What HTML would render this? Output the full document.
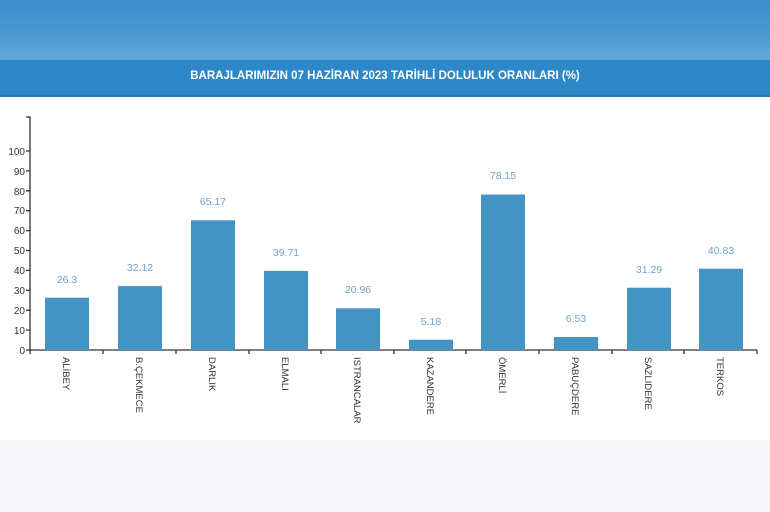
<!DOCTYPE html>
<html><head><meta charset="utf-8"><style>
body{margin:0;width:770px;height:512px;overflow:hidden;background:#f6f6f8;font-family:"Liberation Sans","DejaVu Sans",sans-serif}
#top{position:absolute;left:0;top:0;width:770px;height:60px;background:linear-gradient(180deg,#3b8fcc 0%,#4a9ad3 60%,#62a9da 100%)}
#title{position:absolute;left:0;top:60px;width:770px;height:35px;background:#2e87c6;border-bottom:2px solid #2a79b3;color:#fff;font-size:11.5px;font-weight:bold;text-align:center;line-height:33px}
#main{position:absolute;left:0;top:97px;width:770px;height:343px;background:#fff}
svg{position:absolute;left:0;top:0}
</style></head><body>
<div id="top"></div>
<div id="title">BARAJLARIMIZIN 07 HAZİRAN 2023 TARİHLİ DOLULUK ORANLARI (%)</div>
<div id="main"></div>
<svg width="770" height="512" font-family="Liberation Sans, DejaVu Sans, sans-serif">
<g stroke="#333" stroke-width="1.3" fill="none">
<path d="M26 117H30V350H757"/>
<path d="M26 350H30M26 330.1H30M26 310.2H30M26 290.3H30M26 270.4H30M26 250.5H30M26 230.6H30M26 210.7H30M26 190.8H30M26 170.9H30M26 151H30"/>
<path d="M30 350V354M103 350V354M176 350V354M249 350V354M321 350V354M394 350V354M466 350V354M539 350V354M612 350V354M684 350V354M757 350V354"/>
</g>
<g font-size="10" fill="#333" text-anchor="end">
<text x="25" y="354">0</text><text x="25" y="334">10</text><text x="25" y="314">20</text><text x="25" y="294">30</text><text x="25" y="274">40</text><text x="25" y="254">50</text><text x="25" y="234">60</text><text x="25" y="214">70</text><text x="25" y="195">80</text><text x="25" y="175">90</text><text x="25" y="155">100</text>
</g>
<g fill="#4393c3">
<rect x="45" y="297.7" width="44" height="52.3"/>
<rect x="118" y="286.1" width="44" height="63.9"/>
<rect x="191" y="220.3" width="44" height="129.7"/>
<rect x="264" y="271" width="44" height="79"/>
<rect x="336" y="308.3" width="44" height="41.7"/>
<rect x="409" y="339.7" width="44" height="10.3"/>
<rect x="481" y="194.5" width="44" height="155.5"/>
<rect x="554" y="337" width="44" height="13"/>
<rect x="627" y="287.7" width="44" height="62.3"/>
<rect x="699" y="268.7" width="44" height="81.3"/>
</g>
<g font-size="10.5" fill="#6fa3cc" text-anchor="middle">
<text x="67" y="283">26.3</text><text x="140" y="271">32.12</text><text x="213" y="205">65.17</text><text x="286" y="256">39.71</text><text x="358" y="293">20.96</text><text x="431" y="325">5.18</text><text x="503" y="179">78.15</text><text x="576" y="322">6.53</text><text x="649" y="273">31.29</text><text x="721" y="254">40.83</text>
</g>
<g font-size="9.5" fill="#333">
<text transform="translate(63,357) rotate(90)">ALİBEY</text>
<text transform="translate(136,357) rotate(90)">B.ÇEKMECE</text>
<text transform="translate(209,357) rotate(90)">DARLIK</text>
<text transform="translate(282,357) rotate(90)">ELMALI</text>
<text transform="translate(354,357) rotate(90)">ISTRANCALAR</text>
<text transform="translate(427,357) rotate(90)">KAZANDERE</text>
<text transform="translate(499,357) rotate(90)">ÖMERLİ</text>
<text transform="translate(572,357) rotate(90)">PABUÇDERE</text>
<text transform="translate(645,357) rotate(90)">SAZLIDERE</text>
<text transform="translate(717,357) rotate(90)">TERKOS</text>
</g>
</svg>
</body></html>
